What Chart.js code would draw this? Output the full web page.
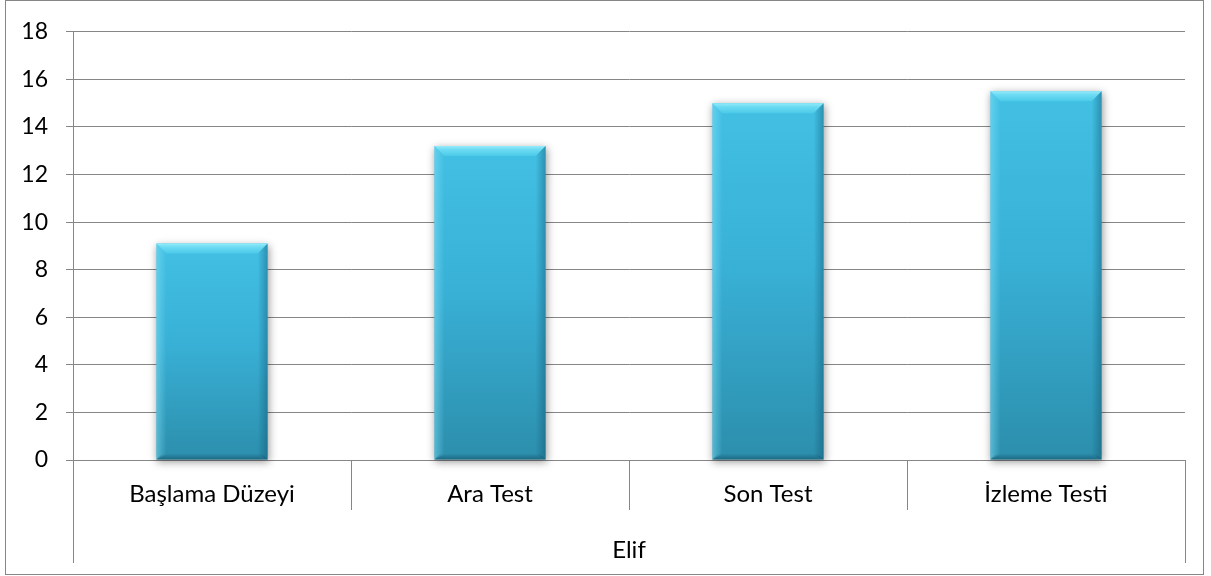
<!DOCTYPE html>
<html>
<head>
<meta charset="utf-8">
<script src="https://cdn.jsdelivr.net/npm/chart.js@4.4.0/dist/chart.umd.min.js"></script>
<style>
  html, body { margin: 0; padding: 0; background: #ffffff; }
  #wrap { width: 1211px; height: 576px; }
</style>
</head>
<body>
<div id="wrap"><canvas id="chart" width="1211" height="576"></canvas></div>
<script>
// Scores for Elif across the four measurement sessions
const categories = ['Başlama Düzeyi', 'Ara Test', 'Son Test', 'İzleme Testi'];
const groupLabel = 'Elif';
const scores = [9.1, 13.2, 15, 15.5];
const yMin = 0;
const yMax = 18;
const yStep = 2;

const FONT = 'Lato, "DejaVu Sans", sans-serif';
const AXIS_GREY = '#868686';

// Vertical gradient for each bar, from its top down to the baseline
function barGradient(ctx) {
  const chart = ctx.chart;
  const ys = chart.scales.y;
  if (!chart.chartArea || !ys || ctx.parsed === undefined) return '#37a9cc';
  const top = ys.getPixelForValue(ctx.parsed.y);
  const base = ys.getPixelForValue(0);
  const g = chart.ctx.createLinearGradient(0, top, 0, base);
  g.addColorStop(0, '#42c0e3');
  g.addColorStop(0.45, '#39b1d7');
  g.addColorStop(1, '#2c8eac');
  return g;
}

// Soft drop shadow under the bars
const barShadow = {
  id: 'barShadow',
  beforeDatasetDraw(chart) {
    const c = chart.ctx;
    c.save();
    c.shadowColor = 'rgba(0,0,0,0.4)';
    c.shadowBlur = 8;
    c.shadowOffsetX = 1;
    c.shadowOffsetY = 2;
  },
  afterDatasetDraw(chart) {
    chart.ctx.restore();
  }
};

// Bevelled edges on each bar, drawn from the bar element geometry
const barBevel = {
  id: 'barBevel',
  afterDatasetsDraw(chart) {
    const c = chart.ctx;
    const meta = chart.getDatasetMeta(0);
    meta.data.forEach(el => {
      const p = el.getProps(['x', 'y', 'base', 'width'], true);
      const l = p.x - p.width / 2, r = p.x + p.width / 2;
      const t = p.y, b = p.base;
      const bv = 10;
      c.save();
      // top face
      let g = c.createLinearGradient(0, t, 0, t + bv);
      g.addColorStop(0, '#95ecfb');
      g.addColorStop(0.35, '#6ddbf3');
      g.addColorStop(1, '#4ccae9');
      c.fillStyle = g;
      c.beginPath();
      c.moveTo(l, t); c.lineTo(r, t); c.lineTo(r - bv, t + bv); c.lineTo(l + bv, t + bv); c.closePath();
      c.fill();
      // left face
      g = c.createLinearGradient(l, 0, l + bv, 0);
      g.addColorStop(0, 'rgba(130,225,248,0.5)');
      g.addColorStop(1, 'rgba(130,225,248,0.0)');
      c.fillStyle = g;
      c.beginPath();
      c.moveTo(l, t); c.lineTo(l + bv, t + bv); c.lineTo(l + bv, b - 5); c.lineTo(l, b); c.closePath();
      c.fill();
      // right face
      g = c.createLinearGradient(r - bv, 0, r, 0);
      g.addColorStop(0, 'rgba(10,70,95,0.0)');
      g.addColorStop(1, 'rgba(10,70,95,0.38)');
      c.fillStyle = g;
      c.beginPath();
      c.moveTo(r, t); c.lineTo(r - bv, t + bv); c.lineTo(r - bv, b - 5); c.lineTo(r, b); c.closePath();
      c.fill();
      // bottom face
      g = c.createLinearGradient(0, b - 6, 0, b);
      g.addColorStop(0, 'rgba(10,60,85,0.0)');
      g.addColorStop(1, 'rgba(10,60,85,0.45)');
      c.fillStyle = g;
      c.beginPath();
      c.moveTo(l, b); c.lineTo(l + 6, b - 6); c.lineTo(r - 6, b - 6); c.lineTo(r, b); c.closePath();
      c.fill();
      c.restore();
    });
  }
};

// Frame, category dividers and the outer group label under the category axis
const axisFrame = {
  id: 'axisFrame',
  beforeDraw(chart) {
    const c = chart.ctx;
    c.save();
    c.fillStyle = '#ffffff';
    c.fillRect(0, 0, chart.width, chart.height);
    c.restore();
  },
  afterDraw(chart) {
    const c = chart.ctx;
    const xs = chart.scales.x;
    const area = chart.chartArea;
    const n = categories.length;
    const step = (area.right - area.left) / n;
    const axisY = area.bottom;
    c.save();
    c.strokeStyle = AXIS_GREY;
    c.lineWidth = 1;
    // inner dividers between categories
    for (let i = 1; i < n; i++) {
      const px = Math.round(xs.getPixelForTick(i) - step / 2) + 0.5;
      c.beginPath(); c.moveTo(px, axisY); c.lineTo(px, axisY + 50); c.stroke();
    }
    // outer edges spanning both label rows
    [area.left, area.right].forEach(v => {
      const px = Math.round(v) + 0.5;
      c.beginPath(); c.moveTo(px, axisY); c.lineTo(px, axisY + 103); c.stroke();
    });
    // group label
    c.fillStyle = '#000000';
    c.font = '24px ' + FONT;
    c.textAlign = 'center';
    c.textBaseline = 'middle';
    c.fillText(groupLabel, (area.left + area.right) / 2, axisY + 90);
    // outer chart border
    c.strokeStyle = AXIS_GREY;
    c.strokeRect(5.5, 0.5, 1198, 574);
    c.restore();
  }
};

new Chart(document.getElementById('chart'), {
  type: 'bar',
  data: {
    labels: categories,
    datasets: [{
      label: groupLabel,
      data: scores,
      backgroundColor: barGradient,
      borderWidth: 0,
      categoryPercentage: 1.0,
      barPercentage: 0.4,
      clip: false
    }]
  },
  options: {
    responsive: false,
    devicePixelRatio: 1,
    animation: false,
    layout: { padding: { left: 0, right: 26, top: 29, bottom: 66 } },
    plugins: {
      legend: { display: false },
      tooltip: { enabled: false },
      title: { display: false }
    },
    scales: {
      x: {
        type: 'category',
        offset: true,
        grid: { display: false, drawTicks: false },
        border: { display: false },
        ticks: {
          color: '#000000',
          font: { family: FONT, size: 24 },
          padding: 20,
          maxRotation: 0,
          autoSkip: false
        },
        afterFit(scale) { scale.height = 50; }
      },
      y: {
        min: yMin,
        max: yMax,
        ticks: {
          stepSize: yStep,
          color: '#000000',
          font: { family: FONT, size: 23 },
          padding: 18
        },
        grid: {
          color: AXIS_GREY,
          lineWidth: 1,
          drawTicks: true,
          tickLength: 7
        },
        border: { display: true, color: AXIS_GREY, width: 1 },
        afterFit(scale) { scale.width = 73; }
      }
    }
  },
  plugins: [axisFrame, barShadow, barBevel]
});
</script>
</body>
</html>
